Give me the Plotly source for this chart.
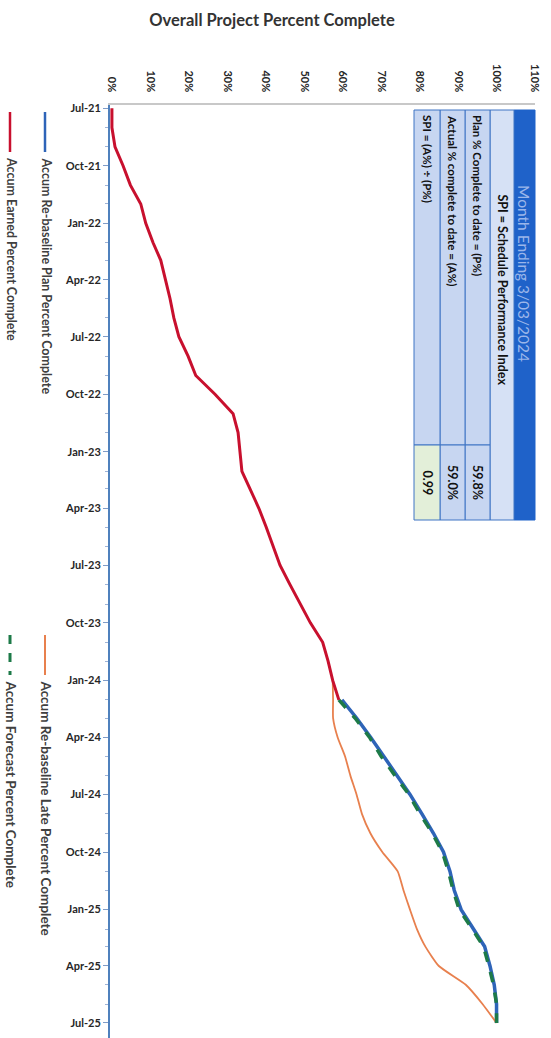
import pandas as pd
import plotly.graph_objects as go

# ---- data -------------------------------------------------------------
earned_dates = pd.date_range("2021-07-01", "2024-02-01", freq="MS")
earned_pct = [0.0, 0.0, 0.8, 2.9, 4.8, 7.5, 8.8, 10.7, 12.7, 14.0, 15.1, 16.1,
              17.4, 19.8, 21.8, 26.8, 31.5, 32.8, 33.3, 33.8, 35.9, 38.2, 40.1, 41.9,
              43.7, 46.3, 49.0, 51.6, 54.8, 56.2, 57.4, 59.0]

plan_dates = pd.date_range("2024-02-01", "2025-07-01", freq="MS")
plan_pct = [59.8, 63.6, 67.3, 70.6, 74.0, 77.5, 80.6, 83.6, 86.2, 87.9, 89.0, 90.8,
            94.0, 96.9, 98.3, 99.4, 100.0, 100.0]

forecast_dates = pd.date_range("2024-02-01", "2025-07-01", freq="MS")
forecast_pct = [59.0, 63.2, 67.0, 70.0, 73.6, 77.2, 80.1, 83.3, 85.9, 87.5, 88.7, 90.3,
                93.7, 96.6, 98.0, 99.2, 100.0, 100.0]

late_dates = pd.date_range("2024-01-01", "2025-07-01", freq="MS")
late_pct = [57.4, 57.5, 57.5, 58.7, 60.6, 62.0, 63.6, 65.0, 67.2, 70.3, 74.3, 75.8,
            77.5, 79.3, 81.5, 85.0, 92.0, 96.4, 100.0]

pct_ticks = list(range(0, 111, 10))
pct_labels = [f"{v}%" for v in pct_ticks]

month_ending = "3/03/2024"
plan_to_date = 59.8
actual_to_date = 59.0
spi = actual_to_date / plan_to_date

# ---- colours ----------------------------------------------------------
RED = "#c8102e"
BLUE = "#2e64b8"
GREEN = "#1d7a48"
ORANGE = "#e8804e"
AXIS_BLUE = "#4f81bd"
TEXT = "#262626"
FONT = "Lato"

# ---- page geometry (pixels) ---------------------------------------------
W, H = 551, 1038
L, R, T, B = 110, 16, 105, 0
PW, PH = W - L - R, H - T - B


def px(xp):
    return (xp - L) / PW


def py(yp):
    return (H - B - yp) / PH


fig = go.Figure()

fig.add_trace(go.Scatter(x=plan_pct, y=plan_dates, mode="lines",
                         line=dict(color=BLUE, width=3.5),
                         name="Accum Re-baseline Plan Percent Complete"))
fig.add_trace(go.Scatter(x=late_pct, y=late_dates, mode="lines",
                         line=dict(color=ORANGE, width=1.8, shape="spline", smoothing=0.5),
                         name="Accum Re-baseline Late Percent Complete"))
fig.add_trace(go.Scatter(x=forecast_pct, y=forecast_dates, mode="lines",
                         line=dict(color=GREEN, width=3.5, dash="dash"),
                         name="Accum Forecast Percent Complete"))
fig.add_trace(go.Scatter(x=earned_pct, y=earned_dates, mode="lines",
                         line=dict(color=RED, width=3),
                         name="Accum Earned Percent Complete"))

shapes = []
annotations = []

# ---- legend (rotated) -------------------------------------------------
legend_items = [
    (45, 112, 152, BLUE, "solid", 2.5, 12.5, "Accum Re-baseline Plan Percent Complete"),
    (10, 112, 152, RED, "solid", 2.5, 12.5, "Accum Earned Percent Complete"),
    (45, 635, 675, ORANGE, "solid", 2, 13.5, "Accum Re-baseline Late Percent Complete"),
    (10, 635, 675, GREEN, "dash", 3, 13.5, "Accum Forecast Percent Complete"),
]
for xc, y0, y1, col, dash, wd, fs, label in legend_items:
    shapes.append(dict(type="line", xref="paper", yref="paper",
                       x0=px(xc), x1=px(xc), y0=py(y0), y1=py(y1),
                       line=dict(color=col, width=wd, dash=dash)))
    annotations.append(dict(text=label, xref="paper", yref="paper",
                            x=px(xc + 1), y=py(y1 + 3), xanchor="center", yanchor="top",
                            textangle=90, showarrow=False,
                            font=dict(family=FONT, size=fs, color="#404040", weight="bold")))

# ---- SPI table (rotated) ----------------------------------------------
TB_TOP, TB_BOT, TB_SPLIT = 110, 520, 445
HDR = (514, 535)
TITLE_ROW = (490, 514)
ROWS = [(465, 490), (440, 465), (414, 440)]
CELL = "#c7d6f1"
BORDER = "#3f74c4"


def rect(x0, x1, y0, y1, fill, line=BORDER, lw=1):
    shapes.append(dict(type="rect", xref="paper", yref="paper",
                       x0=px(x0), x1=px(x1), y0=py(y0), y1=py(y1),
                       fillcolor=fill, line=dict(color=line, width=lw), layer="above"))


rect(HDR[0], HDR[1], TB_TOP, TB_BOT, "#1f62c9", line="#1f62c9")
rect(TITLE_ROW[0], TITLE_ROW[1], TB_TOP, TB_BOT, "#d6e1f5")
for i, (x0, x1) in enumerate(ROWS):
    rect(x0, x1, TB_TOP, TB_SPLIT, CELL)
    rect(x0, x1, TB_SPLIT, TB_BOT, "#e3efd9" if i == 2 else CELL)


def rot_text(text, xc, y, size, color, anchor="top", bold=True):
    annotations.append(dict(text=text, xref="paper", yref="paper",
                            x=px(xc), y=py(y), xanchor="center", yanchor=anchor,
                            textangle=90, showarrow=False,
                            font=dict(family=FONT, size=size, color=color,
                                      weight="bold" if bold else "normal")))


rot_text(f"Month Ending {month_ending}", 524.5, 183, 15.5, "#9bb6ea", bold=False)
rot_text("SPI = Schedule Performance Index", 502, 192, 12.5, "#111111")
row_labels = ["Plan % Complete to date = (P%)",
              "Actual % complete to date = (A%)",
              "SPI = (A%) ÷ (P%)"]
row_values = [f"{plan_to_date:.1f}%", f"{actual_to_date:.1f}%", f"{spi:.2f}"]
for (x0, x1), lab, val in zip(ROWS, row_labels, row_values):
    xc = (x0 + x1) / 2
    rot_text(lab, xc, 113, 11.5, "#111111")
    rot_text(val, xc, (TB_SPLIT + TB_BOT) / 2, 12.5, "#111111", anchor="middle")

fig.update_layout(
    width=W, height=H,
    margin=dict(l=L, r=R, t=T, b=B),
    paper_bgcolor="white", plot_bgcolor="white",
    showlegend=False,
    title=dict(text="Overall Project Percent Complete", x=272 / W, xanchor="center",
               y=1 - 20 / H, yanchor="middle",
               font=dict(family=FONT, size=16.5, color="#333333", weight="bold")),
    shapes=shapes, annotations=annotations,
)

fig.update_xaxes(
    side="top", range=[-0.5, 110], tickmode="array", tickvals=pct_ticks, ticktext=pct_labels,
    tickangle=90, showgrid=False, zeroline=False,
    showline=True, linecolor="#c8c8c8", linewidth=2,
    ticks="outside", ticklen=7, tickcolor="rgba(0,0,0,0)",
    tickfont=dict(family=FONT, size=11, color=TEXT, weight="bold"),
)
fig.update_yaxes(
    type="date", range=["2025-07-25", "2021-06-26"],
    dtick="M3", tick0="2021-07-01", tickformat="%b-%y",
    showgrid=False, zeroline=False,
    showline=True, linecolor=AXIS_BLUE, linewidth=2,
    ticks="outside", ticklen=5, tickcolor="#7f9cc8",
    minor=dict(dtick="M1", ticks="outside", ticklen=3, tickcolor="#9fb3d6"),
    tickfont=dict(family=FONT, size=11, color=TEXT, weight="bold"),
)

fig.write_html("out.html")
